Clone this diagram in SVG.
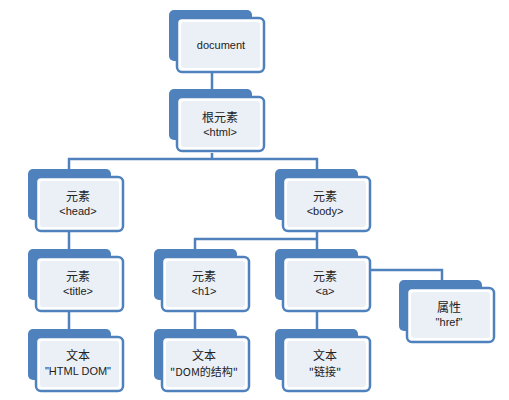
<svg xmlns="http://www.w3.org/2000/svg" width="509" height="400" viewBox="0 0 509 400">
<style>
.back{fill:#4f81bd;}
.front{fill:#ffffff;stroke:#4f81bd;stroke-width:2.5;}
.inner{fill:#ebf0f7;}
.t{font-family:"Liberation Sans","Noto Sans CJK SC",sans-serif;font-size:11px;fill:#222;text-anchor:middle;}
.c{font-family:"Noto Sans CJK SC","Liberation Sans",sans-serif;font-size:12px;fill:#222;text-anchor:middle;}
.c2{font-family:"Noto Sans CJK SC","Liberation Sans",sans-serif;font-size:11px;fill:#222;text-anchor:middle;}
.conn{fill:none;stroke:#4f81bd;stroke-width:2.5;}
</style>
<defs>
<g id="box">
<rect class="back" x="-8" y="-8" width="83" height="51" rx="5"/>
<rect class="front" x="0" y="0" width="87" height="54" rx="5"/>
<rect class="inner" x="4" y="4" width="79" height="46" rx="3"/>
</g>
</defs>
<rect width="509" height="400" fill="#ffffff"/>
<g id="connectors">
<path class="conn" d="M212,73 V97"/>
<path class="conn" d="M212,153 V159 M69,170 V159 H317 V170"/>
<path class="conn" d="M69,231 V257 M69,311 V337"/>
<path class="conn" d="M317,231 V239 M195,249 V239 H317 V249"/>
<path class="conn" d="M195,311 V337 M317,311 V337"/>
<path class="conn" d="M369,270 H442 V282"/>
</g>
<g id="document"><use href="#box" x="177" y="18"/><text class="t" x="221" y="49">document</text></g>
<g id="html"><use href="#box" x="177" y="97"/><text class="c" x="220" y="122">根元素</text><text class="t" x="220" y="136">&lt;html&gt;</text></g>
<g id="head"><use href="#box" x="36" y="177"/><text class="c" x="78" y="201">元素</text><text class="t" x="78" y="215">&lt;head&gt;</text></g>
<g id="body"><use href="#box" x="283" y="177"/><text class="c" x="325" y="201">元素</text><text class="t" x="325" y="215">&lt;body&gt;</text></g>
<g id="title"><use href="#box" x="36" y="257"/><text class="c" x="78" y="281">元素</text><text class="t" x="78" y="295">&lt;title&gt;</text></g>
<g id="h1"><use href="#box" x="162" y="257"/><text class="c" x="204" y="281">元素</text><text class="t" x="204" y="295">&lt;h1&gt;</text></g>
<g id="a"><use href="#box" x="283" y="257"/><text class="c" x="325" y="281">元素</text><text class="t" x="325" y="295">&lt;a&gt;</text></g>
<g id="href"><use href="#box" x="407" y="288"/><text class="c" x="449" y="312">属性</text><text class="t" x="449" y="326">"href"</text></g>
<g id="text-htmldom"><use href="#box" x="36" y="337"/><text class="c" x="78" y="360">文本</text><text class="t" x="78" y="375">"HTML DOM"</text></g>
<g id="text-domstruct"><use href="#box" x="162" y="337"/><text class="c" x="204" y="360">文本</text><text class="c2" x="204" y="376">"DOM的结构"</text></g>
<g id="text-link"><use href="#box" x="283" y="337"/><text class="c" x="325" y="360">文本</text><text class="c2" x="325" y="376">"链接"</text></g>
</svg>
